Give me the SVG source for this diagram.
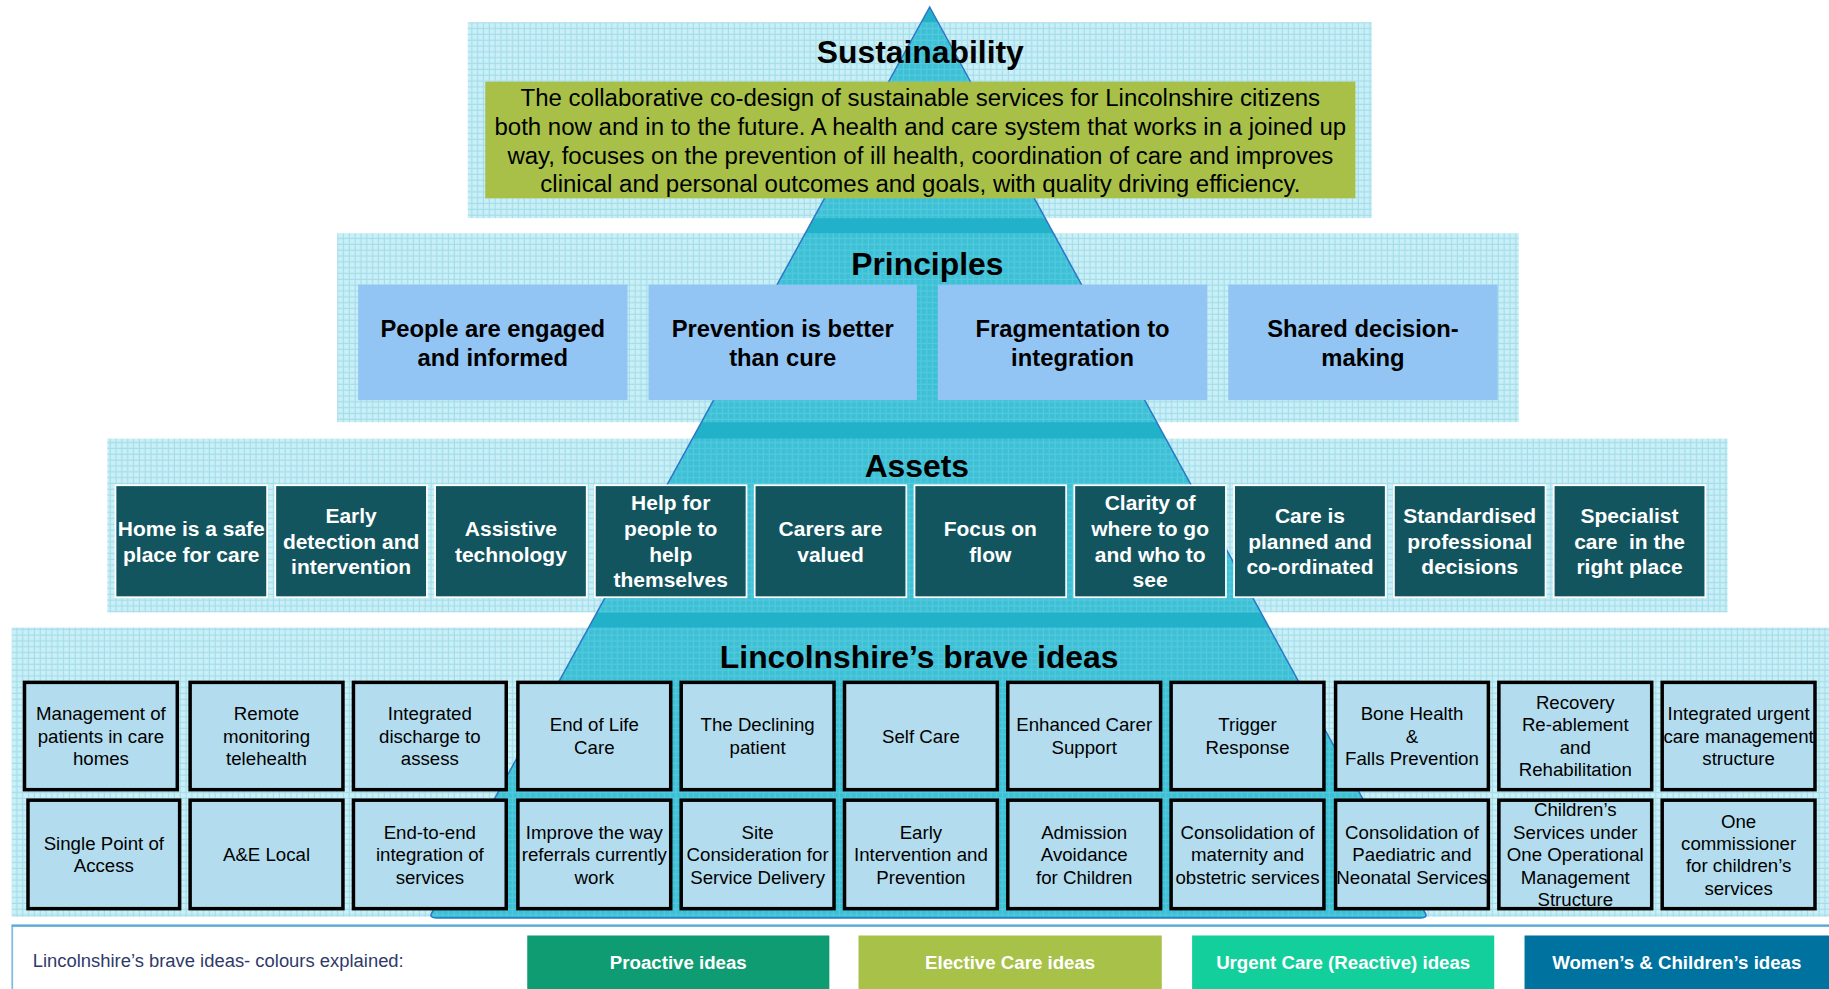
<svg xmlns="http://www.w3.org/2000/svg" width="1829" height="989" viewBox="0 0 1829 989">
<defs>
<pattern id="gridLight" width="5" height="5" patternUnits="userSpaceOnUse">
<rect width="5" height="5" fill="#CBEFF6"/>
<path d="M0 4.5H5M4.5 0V5" stroke="#A3DEEB" stroke-width="1"/>
</pattern>
<pattern id="gridDark" width="5" height="5" patternUnits="userSpaceOnUse">
<path d="M0 4.5H5M4.5 0V5" stroke="#5ECCE0" stroke-width="1" opacity="0.7"/>
</pattern>
<clipPath id="panelClip">
<rect x="401" y="19" width="775" height="168"/>
<rect x="289" y="200" width="1013" height="162"/>
<rect x="92" y="376" width="1389" height="149"/>
<rect x="10" y="538" width="1558" height="248"/>
</clipPath>
<style>
text{font-family:"Liberation Sans",Arial,sans-serif;text-anchor:middle;fill:#000}
.title{font-size:27.3px;font-weight:bold}
.sus{font-size:20.6px}
.pr rect{fill:#93C5F4}
.pr text{font-size:20.4px;font-weight:bold}
.as rect{fill:#13555F;stroke:#FFFFFF;stroke-width:1.5}
.as text{font-size:18px;font-weight:bold;fill:#FFFFFF;white-space:pre}
.bi rect{fill:#B3DDEE;stroke:#000;stroke-width:3}
.bi text{font-size:16px}
.lg text{font-size:16px;font-weight:bold;fill:#FFFFFF}
.panel{fill:url(#gridLight)}
</style>
</defs>
<rect width="1829" height="989" fill="#FFFFFF"/>
<g transform="scale(1.16645)">
<g id="panels">
<rect class="panel" x="401" y="19" width="775" height="168"/>
<rect class="panel" x="289" y="200" width="1013" height="162"/>
<rect class="panel" x="92" y="376" width="1389" height="149"/>
<rect class="panel" x="10" y="538" width="1558" height="248"/>
</g>
<g id="pyramid">
<path d="M797 6 L370 783 Q368 787 374 787 L1218 787 Q1224 787 1222 783 Z" fill="#21B1C8"/>
<g clip-path="url(#panelClip)">
<path d="M797 6 L370 783 Q368 787 374 787 L1218 787 Q1224 787 1222 783 Z" fill="#3CC0D5"/>
<path d="M797 6 L370 783 Q368 787 374 787 L1218 787 Q1224 787 1222 783 Z" fill="url(#gridDark)"/>
</g>
<path d="M797 6 L370 783 Q368 787 374 787 L1218 787 Q1224 787 1222 783 Z" fill="none" stroke="#2C78C8" stroke-width="1.3"/>
</g>

<g id="sustainability">
<text class="title" x="789" y="54">Sustainability</text>
<rect x="416" y="70" width="746" height="100" fill="#A8C048"/>
<text class="sus" x="789" y="91">The collaborative co-design of sustainable services for Lincolnshire citizens</text>
<text class="sus" x="789" y="115.6">both now and in to the future. A health and care system that works in a joined up</text>
<text class="sus" x="789" y="140.2">way, focuses on the prevention of ill health, coordination of care and improves</text>
<text class="sus" x="789" y="164.8">clinical and personal outcomes and goals, with quality driving efficiency.</text>
</g>

<g id="principles">
<text class="title" x="795" y="236">Principles</text>
<g id="pr1" class="pr"><rect x="307" y="244" width="231" height="99"/><text x="422.5" y="288.5">People are engaged</text><text x="422.5" y="313.5">and informed</text></g>
<g id="pr2" class="pr"><rect x="556" y="244" width="230" height="99"/><text x="671" y="288.5">Prevention is better</text><text x="671" y="313.5">than cure</text></g>
<g id="pr3" class="pr"><rect x="804" y="244" width="231" height="99"/><text x="919.5" y="288.5">Fragmentation to</text><text x="919.5" y="313.5">integration</text></g>
<g id="pr4" class="pr"><rect x="1053" y="244" width="231" height="99"/><text x="1168.5" y="288.5">Shared decision-</text><text x="1168.5" y="313.5">making</text></g>
</g>

<g id="assets">
<text class="title" x="786" y="409">Assets</text>
<g id="as1" class="as"><rect x="99" y="416" width="130" height="96"/><text x="164" y="459.5">Home is a safe</text><text x="164" y="481.5">place for care</text></g>
<g id="as2" class="as"><rect x="236" y="416" width="130" height="96"/><text x="301" y="448.5">Early</text><text x="301" y="470.5">detection and</text><text x="301" y="492.5">intervention</text></g>
<g id="as3" class="as"><rect x="373" y="416" width="130" height="96"/><text x="438" y="459.5">Assistive</text><text x="438" y="481.5">technology</text></g>
<g id="as4" class="as"><rect x="510" y="416" width="130" height="96"/><text x="575" y="437.5">Help for</text><text x="575" y="459.5">people to</text><text x="575" y="481.5">help</text><text x="575" y="503.5">themselves</text></g>
<g id="as5" class="as"><rect x="647" y="416" width="130" height="96"/><text x="712" y="459.5">Carers are</text><text x="712" y="481.5">valued</text></g>
<g id="as6" class="as"><rect x="784" y="416" width="130" height="96"/><text x="849" y="459.5">Focus on</text><text x="849" y="481.5">flow</text></g>
<g id="as7" class="as"><rect x="921" y="416" width="130" height="96"/><text x="986" y="437.5">Clarity of</text><text x="986" y="459.5">where to go</text><text x="986" y="481.5">and who to</text><text x="986" y="503.5">see</text></g>
<g id="as8" class="as"><rect x="1058" y="416" width="130" height="96"/><text x="1123" y="448.5">Care is</text><text x="1123" y="470.5">planned and</text><text x="1123" y="492.5">co-ordinated</text></g>
<g id="as9" class="as"><rect x="1195" y="416" width="130" height="96"/><text x="1260" y="448.5">Standardised</text><text x="1260" y="470.5">professional</text><text x="1260" y="492.5">decisions</text></g>
<g id="as10" class="as"><rect x="1332" y="416" width="130" height="96"/><text x="1397" y="448.5">Specialist</text><text x="1397" y="470.5" xml:space="preserve">care  in the</text><text x="1397" y="492.5">right place</text></g>
</g>

<g id="brave-ideas">
<text class="title" x="788" y="573">Lincolnshire’s brave ideas</text>
<g id="bi1" class="bi"><rect x="21" y="585" width="131" height="92"/><text x="86.5" y="617.5">Management of</text><text x="86.5" y="636.7">patients in care</text><text x="86.5" y="655.9">homes</text></g>
<g id="bi2" class="bi"><rect x="163" y="585" width="131" height="92"/><text x="228.5" y="617.5">Remote</text><text x="228.5" y="636.7">monitoring</text><text x="228.5" y="655.9">telehealth</text></g>
<g id="bi3" class="bi"><rect x="303" y="585" width="131" height="92"/><text x="368.5" y="617.5">Integrated</text><text x="368.5" y="636.7">discharge to</text><text x="368.5" y="655.9">assess</text></g>
<g id="bi4" class="bi"><rect x="444" y="585" width="131" height="92"/><text x="509.5" y="627.1">End of Life</text><text x="509.5" y="646.3">Care</text></g>
<g id="bi5" class="bi"><rect x="584" y="585" width="131" height="92"/><text x="649.5" y="627.1">The Declining</text><text x="649.5" y="646.3">patient</text></g>
<g id="bi6" class="bi"><rect x="724" y="585" width="131" height="92"/><text x="789.5" y="636.7">Self Care</text></g>
<g id="bi7" class="bi"><rect x="864" y="585" width="131" height="92"/><text x="929.5" y="627.1">Enhanced Carer</text><text x="929.5" y="646.3">Support</text></g>
<g id="bi8" class="bi"><rect x="1004" y="585" width="131" height="92"/><text x="1069.5" y="627.1">Trigger</text><text x="1069.5" y="646.3">Response</text></g>
<g id="bi9" class="bi"><rect x="1145" y="585" width="131" height="92"/><text x="1210.5" y="617.5">Bone Health</text><text x="1210.5" y="636.7">&amp;</text><text x="1210.5" y="655.9">Falls Prevention</text></g>
<g id="bi10" class="bi"><rect x="1285" y="585" width="131" height="92"/><text x="1350.5" y="607.9">Recovery</text><text x="1350.5" y="627.1">Re-ablement</text><text x="1350.5" y="646.3">and</text><text x="1350.5" y="665.5">Rehabilitation</text></g>
<g id="bi11" class="bi"><rect x="1425" y="585" width="131" height="92"/><text x="1490.5" y="617.5">Integrated urgent</text><text x="1490.5" y="636.7">care management</text><text x="1490.5" y="655.9">structure</text></g>

<g id="bi12" class="bi"><rect x="24" y="686" width="130" height="93"/><text x="89" y="728.7">Single Point of</text><text x="89" y="747.9">Access</text></g>
<g id="bi13" class="bi"><rect x="163" y="686" width="131" height="93"/><text x="228.5" y="738.3">A&amp;E Local</text></g>
<g id="bi14" class="bi"><rect x="303" y="686" width="131" height="93"/><text x="368.5" y="719.1">End-to-end</text><text x="368.5" y="738.3">integration of</text><text x="368.5" y="757.5">services</text></g>
<g id="bi15" class="bi"><rect x="444" y="686" width="131" height="93"/><text x="509.5" y="719.1">Improve the way</text><text x="509.5" y="738.3">referrals currently</text><text x="509.5" y="757.5">work</text></g>
<g id="bi16" class="bi"><rect x="584" y="686" width="131" height="93"/><text x="649.5" y="719.1">Site</text><text x="649.5" y="738.3">Consideration for</text><text x="649.5" y="757.5">Service Delivery</text></g>
<g id="bi17" class="bi"><rect x="724" y="686" width="131" height="93"/><text x="789.5" y="719.1">Early</text><text x="789.5" y="738.3">Intervention and</text><text x="789.5" y="757.5">Prevention</text></g>
<g id="bi18" class="bi"><rect x="864" y="686" width="131" height="93"/><text x="929.5" y="719.1">Admission</text><text x="929.5" y="738.3">Avoidance</text><text x="929.5" y="757.5">for Children</text></g>
<g id="bi19" class="bi"><rect x="1004" y="686" width="131" height="93"/><text x="1069.5" y="719.1">Consolidation of</text><text x="1069.5" y="738.3">maternity and</text><text x="1069.5" y="757.5">obstetric services</text></g>
<g id="bi20" class="bi"><rect x="1145" y="686" width="131" height="93"/><text x="1210.5" y="719.1">Consolidation of</text><text x="1210.5" y="738.3">Paediatric and</text><text x="1210.5" y="757.5">Neonatal Services</text></g>
<g id="bi21" class="bi"><rect x="1285" y="686" width="131" height="93"/><text x="1350.5" y="699.9">Children’s</text><text x="1350.5" y="719.1">Services under</text><text x="1350.5" y="738.3">One Operational</text><text x="1350.5" y="757.5">Management</text><text x="1350.5" y="776.7">Structure</text></g>
<g id="bi22" class="bi"><rect x="1425" y="686" width="131" height="93"/><text x="1490.5" y="709.5">One</text><text x="1490.5" y="728.7">commissioner</text><text x="1490.5" y="747.9">for children’s</text><text x="1490.5" y="767.1">services</text></g>
</g>

<g id="legend">
<path d="M10.5 848 V793.5 H1568" fill="none" stroke="#7DBDE0" stroke-width="1.5"/>
<path d="M10 793.5 H1568" stroke="#5AAAD8" stroke-width="2"/>
<text x="28" y="829" style="text-anchor:start;font-size:15.8px;fill:#2F3A6A">Lincolnshire’s brave ideas- colours explained:</text>
<g id="lg1" class="lg"><rect x="452" y="802" width="259" height="46" fill="#0F9C72"/><text x="581.5" y="831">Proactive ideas</text></g>
<g id="lg2" class="lg"><rect x="736" y="802" width="260" height="46" fill="#A8C148"/><text x="866" y="831">Elective Care ideas</text></g>
<g id="lg3" class="lg"><rect x="1022" y="802" width="259" height="46" fill="#12CF9B"/><text x="1151.5" y="831">Urgent Care (Reactive) ideas</text></g>
<g id="lg4" class="lg"><rect x="1307" y="802" width="261" height="46" fill="#0072A0"/><text x="1437.5" y="831">Women’s &amp; Children’s ideas</text></g>
</g>
</g>
</svg>
